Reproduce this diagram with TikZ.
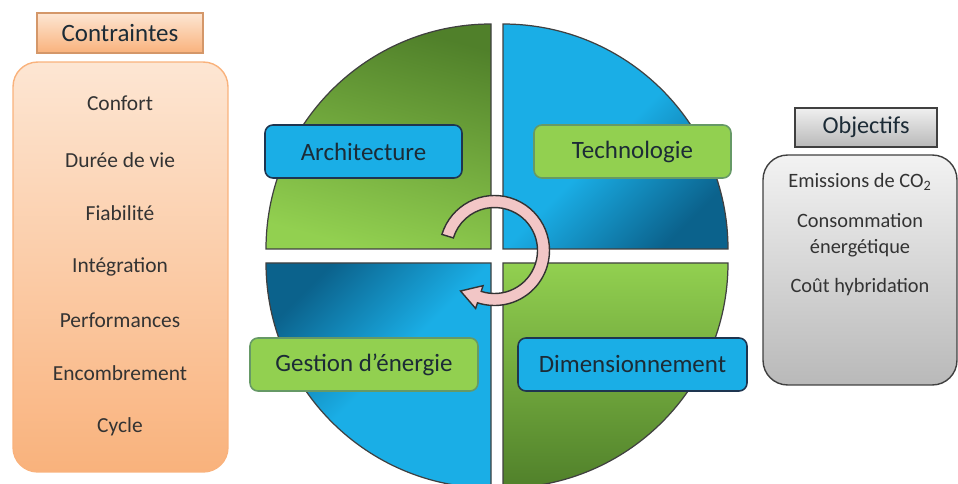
\documentclass[tikz,border=0pt]{standalone}
\usepackage{fontspec}
\setmainfont{Carlito}
\usepackage{tikz}
\usetikzlibrary{positioning,calc}
\definecolor{qblue}{HTML}{1AAEE6}
\definecolor{qbluedark}{HTML}{0B628C}
\definecolor{qgreen}{HTML}{92D050}
\definecolor{qgreendark}{HTML}{50802A}
\definecolor{qnavy}{HTML}{1E3550}
\definecolor{peach}{HTML}{FDE6D3}
\definecolor{orng}{HTML}{F9B27C}
\definecolor{pinkarrow}{HTML}{F2C6C6}
\definecolor{txt}{HTML}{1C2B36}
\tikzset{font=\fontsize{12.2}{14}\selectfont}
\tikzstyle{lab}=[rounded corners=4.5pt,line width=0.9pt,minimum height=1.06cm,text=txt,font=\fontsize{14.2}{17}\selectfont]
\tikzstyle{bluebox}=[lab,fill=qblue,draw=qnavy]
\tikzstyle{greenbox}=[lab,fill=qgreen,draw=gray!80!green]
\tikzstyle{quad}=[draw=black!75,line width=0.7pt]
\tikzstyle{item}=[text=black!80]
\tikzstyle{ritem}=[text=black!80,align=center,font=\fontsize{11.6}{15}\selectfont]

\begin{document}
\begin{tikzpicture}[x=0.02cm,y=0.02cm]
\useasboundingbox (0,0) rectangle (958,484);
% the four quarters
\begin{scope}
\clip (0,0) rectangle (958,484);
\draw[quad,top color=qgreendark,bottom color=qgreen,shading angle=-15] (491,235) -- ++(-225,0) arc[start angle=180,end angle=90,radius=225] -- cycle;
\draw[quad,top color=qblue,bottom color=qbluedark,middle color=qblue,shading angle=45] (503,235) -- ++(0,225) arc[start angle=90,end angle=0,radius=225] -- cycle;
\draw[quad,top color=qbluedark,bottom color=qblue,middle color=qblue,shading angle=45] (491,221) -- ++(-225,0) arc[start angle=180,end angle=270,radius=225] -- cycle;
\draw[quad,top color=qgreen,bottom color=qgreendark] (503,221) -- ++(225,0) arc[start angle=0,end angle=-90,radius=225] -- cycle;
\end{scope}
% cycle arrow
\coordinate (O) at (494.5,233.5);
\draw[fill=pinkarrow,draw=black!80,line width=0.8pt]
($(O)+(163:55)$) arc[start angle=163,end angle=-108,radius=55]
-- ($(O)+(-108:61)$) -- ($(O)+(-34,-40.5)$) -- ($(O)+(-108:37)$)
-- ($(O)+(-108:43)$) arc[start angle=-108,end angle=163,radius=43] -- cycle;
% labels
\node[bluebox,minimum width=3.94cm] (arch) at (363.5,332.5) {Architecture};
\node[greenbox,minimum width=3.94cm] (techno) at (632.5,332.5) {Technologie};
\node[greenbox,minimum width=4.56cm] (gest) at (364,119.5) {Gestion d’énergie};
\node[bluebox,minimum width=4.58cm] (dim) at (632.5,119.5) {Dimensionnement};
% constraints
\node[top color=peach,bottom color=orng,draw=orng!85!black,line width=0.6pt,minimum width=3.32cm,minimum height=0.8cm,text=txt,font=\fontsize{14.2}{17}\selectfont] (contr) at (120,451) {Contraintes};
\node[rounded corners=14pt,top color=peach,bottom color=orng,draw=orng,line width=0.8pt,minimum width=4.3cm,minimum height=8.2cm] (cbox) at (120.5,217) {};
\node[item] (C1) at (120,381) {Confort};
\node[item] (C2) at (120,324) {Durée de vie};
\node[item] (C3) at (120,271) {Fiabilité};
\node[item] (C4) at (120,217) {Intégration};
\node[item] (C5) at (120,164) {Performances};
\node[item] (C6) at (120,111) {Encombrement};
\node[item] (C7) at (120,57) {Cycle};
% objectives
\node[top color=gray!12,bottom color=gray!55,draw=black!75,line width=0.8pt,minimum width=2.84cm,minimum height=0.78cm,text=txt,font=\fontsize{13.8}{17}\selectfont] (obj) at (866,356.5) {Objectifs};
\node[rounded corners=14pt,top color=gray!10,bottom color=gray!55,draw=black!75,line width=0.8pt,minimum width=3.88cm,minimum height=4.6cm] (obox) at (860,214) {};
\node[ritem] (O1) at (860,302) {Emissions de CO\textsubscript{2}};
\node[ritem] (O2) at (860,249) {Consommation\\énergétique};
\node[ritem] (O3) at (860,197) {Coût hybridation};
\end{tikzpicture}
\end{document}
